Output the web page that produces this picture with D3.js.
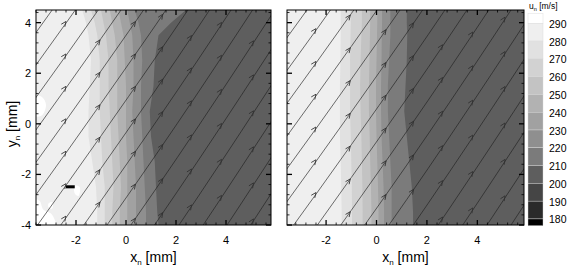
<!DOCTYPE html>
<html><head><meta charset="utf-8">
<script src="https://cdn.jsdelivr.net/npm/d3@7"></script>
<style>
html,body{margin:0;padding:0;background:#fff;}
svg text{font-family:"Liberation Sans",Arial,sans-serif;fill:#000;}
</style></head>
<body><svg id="c" width="567" height="268"></svg>
<script>
// ---------- data ----------
const levels = [290, 280, 270, 260, 250, 240, 230, 220, 210, 200, 190, 180];
// band colours: >=290, 280-290, 270-280, ..., 180-190, <180
const bandColors = ["#ffffff","#efefef","#e1e1e1","#d2d2d2","#c3c3c3","#b2b2b2","#a1a1a1","#8f8f8f","#7b7b7b","#5e5e5e","#454545","#2a2a2a","#000000"];
const xTicks = [-2, 0, 2, 4];
const yTicks = [-4, -2, 0, 2, 4];
// rows (y_n) where contour positions were read
const contourY = [4.5, 4.0, 3.5, 2.5, 1.5, 0.5, -0.5, -1.5, -2.5, -3.5, -4.0];
// contour x_n positions, left panel (levels 280 .. 210)
const leftLevels = [280, 270, 260, 250, 240, 230, 220, 210];
const leftContours = [
  [-1.75,-1.6,-1.5,-1.4,-1.45,-1.5,-1.5,-1.35,-1.2,-1.15,-1.15],
  [-1.4,-1.25,-1.15,-1.05,-1.05,-1.05,-1.0,-0.95,-0.85,-0.85,-0.85],
  [-1.0,-0.9,-0.8,-0.7,-0.7,-0.65,-0.6,-0.55,-0.5,-0.55,-0.55],
  [-0.65,-0.55,-0.45,-0.35,-0.35,-0.35,-0.3,-0.25,-0.2,-0.25,-0.25],
  [-0.3,-0.2,-0.1,-0.05,0.0,0.0,0.0,0.05,0.05,0.05,0.05],
  [0.05,0.15,0.25,0.3,0.3,0.25,0.3,0.35,0.4,0.4,0.4],
  [0.35,0.5,0.6,0.65,0.6,0.6,0.65,0.7,0.75,0.8,0.8],
  [2.4,1.8,1.3,1.15,1.1,0.95,1.0,1.15,1.2,1.25,1.3]
];
const rightLevels = [280, 270, 260, 250, 240, 230, 220, 210];
const rightContours = [
  [-1.42,-1.42,-1.42,-1.43,-1.45,-1.45,-1.45,-1.42,-1.4,-1.38,-1.38],
  [-1.02,-1.02,-1.03,-1.05,-1.05,-1.05,-1.02,-1.0,-0.98,-0.97,-0.97],
  [-0.58,-0.58,-0.6,-0.63,-0.65,-0.63,-0.6,-0.58,-0.56,-0.55,-0.55],
  [-0.25,-0.25,-0.26,-0.28,-0.3,-0.3,-0.27,-0.25,-0.22,-0.2,-0.2],
  [0.03,0.03,0.02,0.0,-0.02,-0.02,0.0,0.03,0.06,0.08,0.08],
  [0.22,0.22,0.21,0.2,0.18,0.18,0.2,0.24,0.28,0.3,0.3],
  [0.55,0.55,0.55,0.5,0.45,0.45,0.5,0.55,0.6,0.6,0.6],
  [1.2,1.2,1.22,1.2,1.15,1.1,1.2,1.3,1.4,1.45,1.45]
];
// local patches in the left panel: [band value, polygon in (x_n, y_n)]
const leftPatches = [
  [295, [[-3.6,1.1],[-3.35,1.05],[-3.2,0.75],[-3.35,0.35],[-3.6,0.3]]],
  [295, [[-3.6,-3.0],[-3.45,-3.05],[-3.3,-3.4],[-3.0,-3.55],[-2.85,-3.8],[-2.8,-4.0],[-3.6,-4.0]]],
  [295, [[-3.1,-3.15],[-2.95,-3.1],[-2.95,-3.35],[-3.1,-3.3]]],
  [295, [[-2.05,-2.45],[-1.85,-2.5],[-1.9,-2.85],[-2.05,-2.75]]]
];
const leftDark = [[-2.4,-2.43],[-2.05,-2.43],[-2.05,-2.55],[-2.4,-2.55]]; // < 180 m/s spot
// streamline shape: x_n and cumulative rise of y_n along a streamline
const streamX = [-12, -1.0, 1.2, 8];
const streamRise = [0, 14.85, 17.97, 28.17];
// x_n where each streamline crosses the lower edge (y_n = -4)
const crossLeft = [-9.31,-8.36,-7.41,-6.46,-5.51,-4.56,-3.61,-2.66,-1.71,-0.76,0.19,1.14,2.09,3.04,3.99,4.94];
const crossRight = [-9.11,-8.15,-7.19,-6.23,-5.27,-4.31,-3.35,-2.39,-1.43,-0.47,0.49,1.45,2.41,3.37,4.33,5.29];
const arrowX = [-2.4, -1.04, 0.38, 1.47, 2.62, 3.82, 5.1];

// ---------- layout ----------
const svg = d3.select("#c");
const panels = [
  {x0:36, x1:271, dom:[-3.6,5.8], levels:leftLevels, contours:leftContours, patches:leftPatches, dark:leftDark, cross:crossLeft, yLabels:true},
  {x0:287, x1:524, dom:[-3.55,5.85], levels:rightLevels, contours:rightContours, patches:[], dark:null, cross:crossRight, yLabels:false}
];
const yTop = 10, yBot = 225;
const bandColor = v => {
  for (let i = 0; i < levels.length; i++) if (v >= levels[i]) return bandColors[i];
  return bandColors[bandColors.length-1];
};
const rise = d3.scaleLinear().domain(streamX).range(streamRise);

panels.forEach((p, pi) => {
  const x = d3.scaleLinear().domain(p.dom).range([p.x0, p.x1]);
  const y = d3.scaleLinear().domain([-4, 4.5]).range([yBot, yTop]);
  const clipId = "clip" + pi;
  svg.append("clipPath").attr("id", clipId).append("rect")
    .attr("x", p.x0).attr("y", yTop).attr("width", p.x1 - p.x0).attr("height", yBot - yTop);
  const g = svg.append("g").attr("clip-path", `url(#${clipId})`);
  g.append("rect").attr("x", p.x0).attr("y", yTop).attr("width", p.x1-p.x0).attr("height", yBot-yTop)
    .attr("fill", bandColor(p.levels[0] + 5));
  const ln = d3.line().x(d => x(d[0])).y(d => y(d[1])).curve(d3.curveLinear);
  p.levels.forEach((lv, li) => {
    const pts = contourY.map((yy, k) => [p.contours[li][k], yy]);
    const full = [[pts[0][0], 5]].concat(pts).concat([[pts[pts.length-1][0], -4.5],[p.dom[1]+1,-4.5],[p.dom[1]+1,5]]);
    g.append("path").attr("d", ln(full) + "Z").attr("fill", bandColor(lv - 5));
  });
  p.patches.forEach(([v, poly]) => {
    g.append("path").attr("d", d3.line().x(d => x(d[0])).y(d => y(d[1])).curve(d3.curveCatmullRomClosed)(poly))
      .attr("fill", bandColor(v));
  });
  if (p.dark) g.append("path").attr("d", ln(p.dark) + "Z").attr("fill", bandColor(175));
  // streamlines
  const sl = d3.line().x(d => x(d[0])).y(d => y(d[1])).curve(d3.curveMonotoneX);
  p.cross.forEach(xb => {
    const off = -4 - rise(xb);
    const pts = streamX.map((xx, k) => [xx, off + streamRise[k]]);
    g.append("path").attr("d", sl(pts)).attr("fill", "none").attr("stroke", "#202020").attr("stroke-width", 0.65);
    arrowX.forEach(ax => {
      const yy = off + rise(ax);
      if (yy < -3.85 || yy > 4.35) return;
      const yy2 = off + rise(ax + 0.05);
      const ang = Math.atan2(y(yy2) - y(yy), x(ax + 0.05) - x(ax)) * 180 / Math.PI;
      g.append("path").attr("d", "M-5,-2.2 L0,0 L-5,2.2")
        .attr("transform", `translate(${x(ax)},${y(yy)}) rotate(${ang})`)
        .attr("fill", "none").attr("stroke", "#303030").attr("stroke-width", 0.8);
    });
  });
  // frame
  svg.append("rect").attr("x", p.x0).attr("y", yTop).attr("width", p.x1-p.x0).attr("height", yBot-yTop)
    .attr("fill", "none").attr("stroke", "#000").attr("stroke-width", 1);
  // ticks (inward, all four sides)
  const tg = svg.append("g").attr("stroke", "#000");
  const minorX = d3.range(Math.ceil(p.dom[0]/0.4)*0.4, p.dom[1], 0.4);
  const minorY = d3.range(-4, 4.5, 0.4);
  minorX.forEach(v => {
    const isMajor = Math.abs(v/2 - Math.round(v/2)) < 1e-6;
    const L = isMajor ? 5 : 2.5;
    tg.append("line").attr("x1", x(v)).attr("x2", x(v)).attr("y1", yBot).attr("y2", yBot - L).attr("stroke-width", isMajor?1.3:0.8);
    tg.append("line").attr("x1", x(v)).attr("x2", x(v)).attr("y1", yTop).attr("y2", yTop + L).attr("stroke-width", isMajor?1.3:0.8);
  });
  minorY.forEach(v => {
    const isMajor = Math.abs(v/2 - Math.round(v/2)) < 1e-6;
    const L = isMajor ? 5 : 2.5;
    tg.append("line").attr("x1", p.x0).attr("x2", p.x0 + L).attr("y1", y(v)).attr("y2", y(v)).attr("stroke-width", isMajor?1.3:0.8);
    tg.append("line").attr("x1", p.x1).attr("x2", p.x1 - L).attr("y1", y(v)).attr("y2", y(v)).attr("stroke-width", isMajor?1.3:0.8);
  });
  xTicks.forEach(v => {
    svg.append("text").attr("x", x(v)).attr("y", 244).attr("text-anchor", "middle")
      .attr("font-size", 11).attr("fill", "#111").text(v);
  });
  if (p.yLabels) {
    yTicks.forEach(v => {
      svg.append("text").attr("x", 31).attr("y", y(v) + 4).attr("text-anchor", "end")
        .attr("font-size", 11).attr("fill", "#111").text(v);
    });
  }
  const xt = svg.append("text").attr("x", (p.x0 + p.x1)/2).attr("y", 262).attr("text-anchor", "middle").attr("font-size", 14);
  xt.append("tspan").text("x");
  xt.append("tspan").attr("font-size", 8).attr("dy", 3).text("n");
  xt.append("tspan").attr("dy", -3).text(" [mm]");
});

const yt = svg.append("text").attr("transform", "translate(17,124) rotate(-90)").attr("text-anchor", "middle").attr("font-size", 14);
yt.append("tspan").text("y");
yt.append("tspan").attr("font-size", 8).attr("dy", 3).text("n");
yt.append("tspan").attr("dy", -3).text(" [mm]");

// colour bar
const cb = d3.scaleLinear().domain([176.2, 295.5]).range([225.7, 13.5]);
const cbEdges = [295.5].concat(levels).concat([176.2]);
for (let i = 0; i < cbEdges.length - 1; i++) {
  svg.append("rect").attr("x", 528).attr("width", 15)
    .attr("y", cb(cbEdges[i])).attr("height", cb(cbEdges[i+1]) - cb(cbEdges[i]))
    .attr("fill", bandColors[i]).attr("stroke", "#d8d8d8").attr("stroke-width", 0.4);
}
levels.forEach(v => {
  svg.append("text").attr("x", 549).attr("y", cb(v) + 4.5).attr("font-size", 10.5).attr("fill", "#111").text(v);
});
const ct = svg.append("text").attr("x", 529).attr("y", 8.5).attr("font-size", 8.5);
ct.append("tspan").text("u");
ct.append("tspan").attr("font-size", 5.5).attr("dy", 2).text("n");
ct.append("tspan").attr("dy", -2).text(" [m/s]");
</script></body></html>
